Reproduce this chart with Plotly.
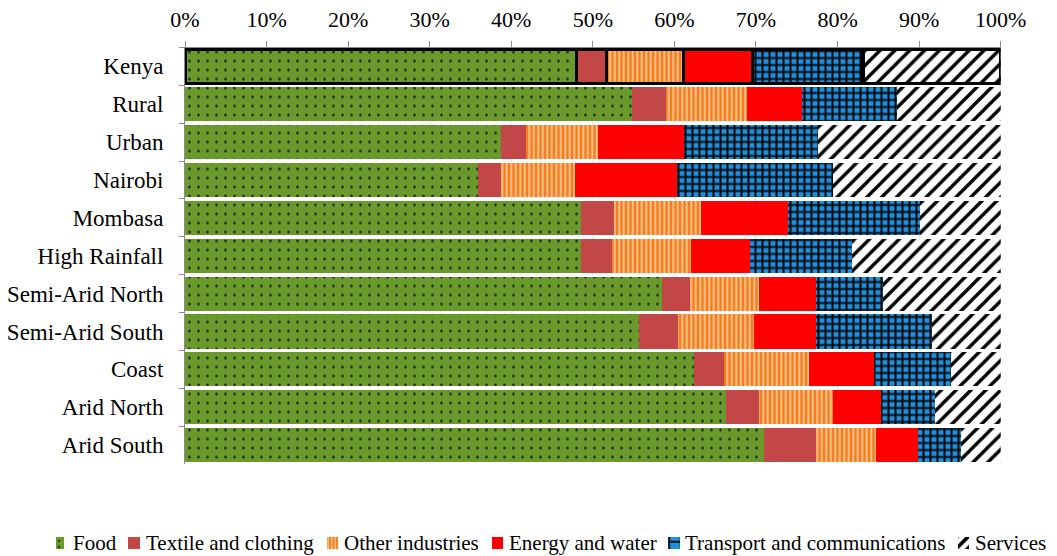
import plotly.graph_objects as go

regions = ["Kenya", "Rural", "Urban", "Nairobi", "Mombasa", "High Rainfall",
           "Semi-Arid North", "Semi-Arid South", "Coast", "Arid North", "Arid South"]

food      = [48.0, 54.8, 38.8, 35.9, 48.6, 48.5, 58.5, 55.7, 62.4, 66.3, 71.0]
textile   = [3.7, 4.2, 3.0, 2.9, 4.0, 3.8, 3.4, 4.7, 3.7, 4.1, 6.4]
other_ind = [9.4, 9.9, 8.8, 9.0, 10.6, 9.7, 8.5, 9.4, 10.4, 9.0, 7.3]
energy    = [8.5, 6.7, 10.6, 12.5, 10.7, 7.3, 7.0, 7.6, 8.0, 5.9, 5.1]
transport = [13.5, 11.7, 16.4, 19.1, 16.2, 12.5, 8.2, 14.2, 9.4, 6.6, 5.3]
services  = [16.9, 12.7, 22.4, 20.6, 9.9, 18.2, 14.4, 8.4, 6.1, 8.1, 4.9]

series_names = ["Food", "Textile and clothing", "Other industries",
                "Energy and water", "Transport and communications", "Services"]
series_values = [food, textile, other_ind, energy, transport, services]

x_ticks = [0, 10, 20, 30, 40, 50, 60, 70, 80, 90, 100]
x_tick_labels = [f"{v}%" for v in x_ticks]

# ---- styles -------------------------------------------------------------
GREEN, BRICK, ORANGE, RED, BLUE = "#6A9A2C", "#C44747", "#F47C1E", "#FF0000", "#1F8FDF"
colors = [GREEN, BRICK, ORANGE, RED, BLUE, "#FFFFFF"]
patterns = [
    dict(shape=".", bgcolor=GREEN, fgcolor="#111111", size=9, solidity=0.06, fgopacity=1),
    dict(shape=""),
    dict(shape="|", bgcolor=ORANGE, fgcolor="#FFCC94", size=4.5, solidity=0.4, fgopacity=1),
    dict(shape=""),
    dict(shape="+", bgcolor=BLUE, fgcolor="#0A0A0A", size=7, solidity=0.5, fgopacity=1),
    dict(shape="/", bgcolor="#FFFFFF", fgcolor="#000000", size=10.5, solidity=0.32, fgopacity=1),
]
legend_patterns = [
    dict(shape=".", bgcolor=GREEN, fgcolor="#111111", size=6, solidity=0.1, fgopacity=1),
    dict(shape=""),
    dict(shape="|", bgcolor=ORANGE, fgcolor="#FFCC94", size=3.5, solidity=0.4, fgopacity=1),
    dict(shape=""),
    dict(shape="+", bgcolor=BLUE, fgcolor="#0A0A0A", size=11.5, solidity=0.3, fgopacity=1),
    dict(shape="/", bgcolor="#FFFFFF", fgcolor="#000000", size=8, solidity=0.45, fgopacity=1),
]

W, H = 1049, 548          # page body has an 8px margin
OFF = 8
line_widths = [3.5 if r == "Kenya" else 0 for r in regions]

fig = go.Figure()
for name, vals, pat, col in zip(series_names, series_values, patterns, colors):
    fig.add_trace(go.Bar(
        y=regions, x=vals, name=name, orientation="h",
        marker=dict(color=col, pattern=pat,
                    line=dict(color="#000000", width=line_widths)),
        xaxis="x", yaxis="y", showlegend=False,
    ))

# ---- hand-made legend (single row, like the original) -------------------
sym_x0 = [56.0, 128.3, 327.3, 491.7, 668.0, 957.5]
sym_x1 = [63.5, 140.0, 337.7, 503.3, 679.5, 969.0]
txt_x = [71.0, 144.0, 342.3, 506.7, 683.0, 972.5]
sym_y0, sym_y1 = 536.7, 548.7
txt_y = 542.5

for name, pat, col, a, b in zip(series_names, legend_patterns, colors, sym_x0, sym_x1):
    fig.add_trace(go.Bar(
        y=[(sym_y0 + sym_y1) / 2 - OFF], x=[b - a], base=[a - OFF],
        width=[sym_y1 - sym_y0], orientation="h",
        marker=dict(color=col, pattern=pat, line=dict(width=0)),
        xaxis="x2", yaxis="y2", showlegend=False, hoverinfo="skip",
    ))

annotations = []
for name, tx in zip(series_names, txt_x):
    annotations.append(dict(
        x=tx - OFF, y=txt_y - OFF, xref="x2", yref="y2", text=name,
        showarrow=False, xanchor="left", yanchor="middle",
        font=dict(family="Liberation Serif, Times New Roman, serif", size=21, color="#000000"),
    ))

px_l, px_r = 185.0 - OFF, 1000.7 - OFF
py_t, py_b = 47.5 - OFF, 464.0 - OFF

fig.update_layout(
    barmode="stack",
    bargap=0.1,
    width=W, height=H, autosize=False,
    margin=dict(l=0, r=0, t=0, b=0, pad=0, autoexpand=False),
    plot_bgcolor="white", paper_bgcolor="white",
    font=dict(family="Liberation Serif, Times New Roman, serif", size=22, color="#000000"),
    showlegend=False,
    annotations=annotations,
    xaxis=dict(
        domain=[px_l / W, px_r / W], anchor="y", automargin=False,
        side="top", range=[0, 100],
        tickvals=x_ticks, ticktext=x_tick_labels,
        ticks="outside", ticklen=6, tickcolor="#8c8c8c",
        showline=True, linecolor="#8c8c8c", linewidth=1,
        showgrid=True, gridcolor="#e3eaf3", gridwidth=1,
        zeroline=False, ticklabelstandoff=5,
        tickfont=dict(size=22),
    ),
    yaxis=dict(
        domain=[(H - py_b) / H, (H - py_t) / H], anchor="x", automargin=False,
        autorange="reversed", type="category",
        ticks="outside", tickson="boundaries", ticklen=5, tickcolor="#8c8c8c",
        showline=True, linecolor="#8c8c8c", linewidth=1,
        showgrid=False, ticklabelstandoff=16,
        tickfont=dict(size=23),
    ),
    xaxis2=dict(domain=[0, 1], range=[0, W], anchor="y2", visible=False,
                fixedrange=True, automargin=False),
    yaxis2=dict(domain=[0, 66 / H], range=[H, H - 66], anchor="x2", visible=False,
                fixedrange=True, automargin=False),
)

fig.write_html("out.html")
